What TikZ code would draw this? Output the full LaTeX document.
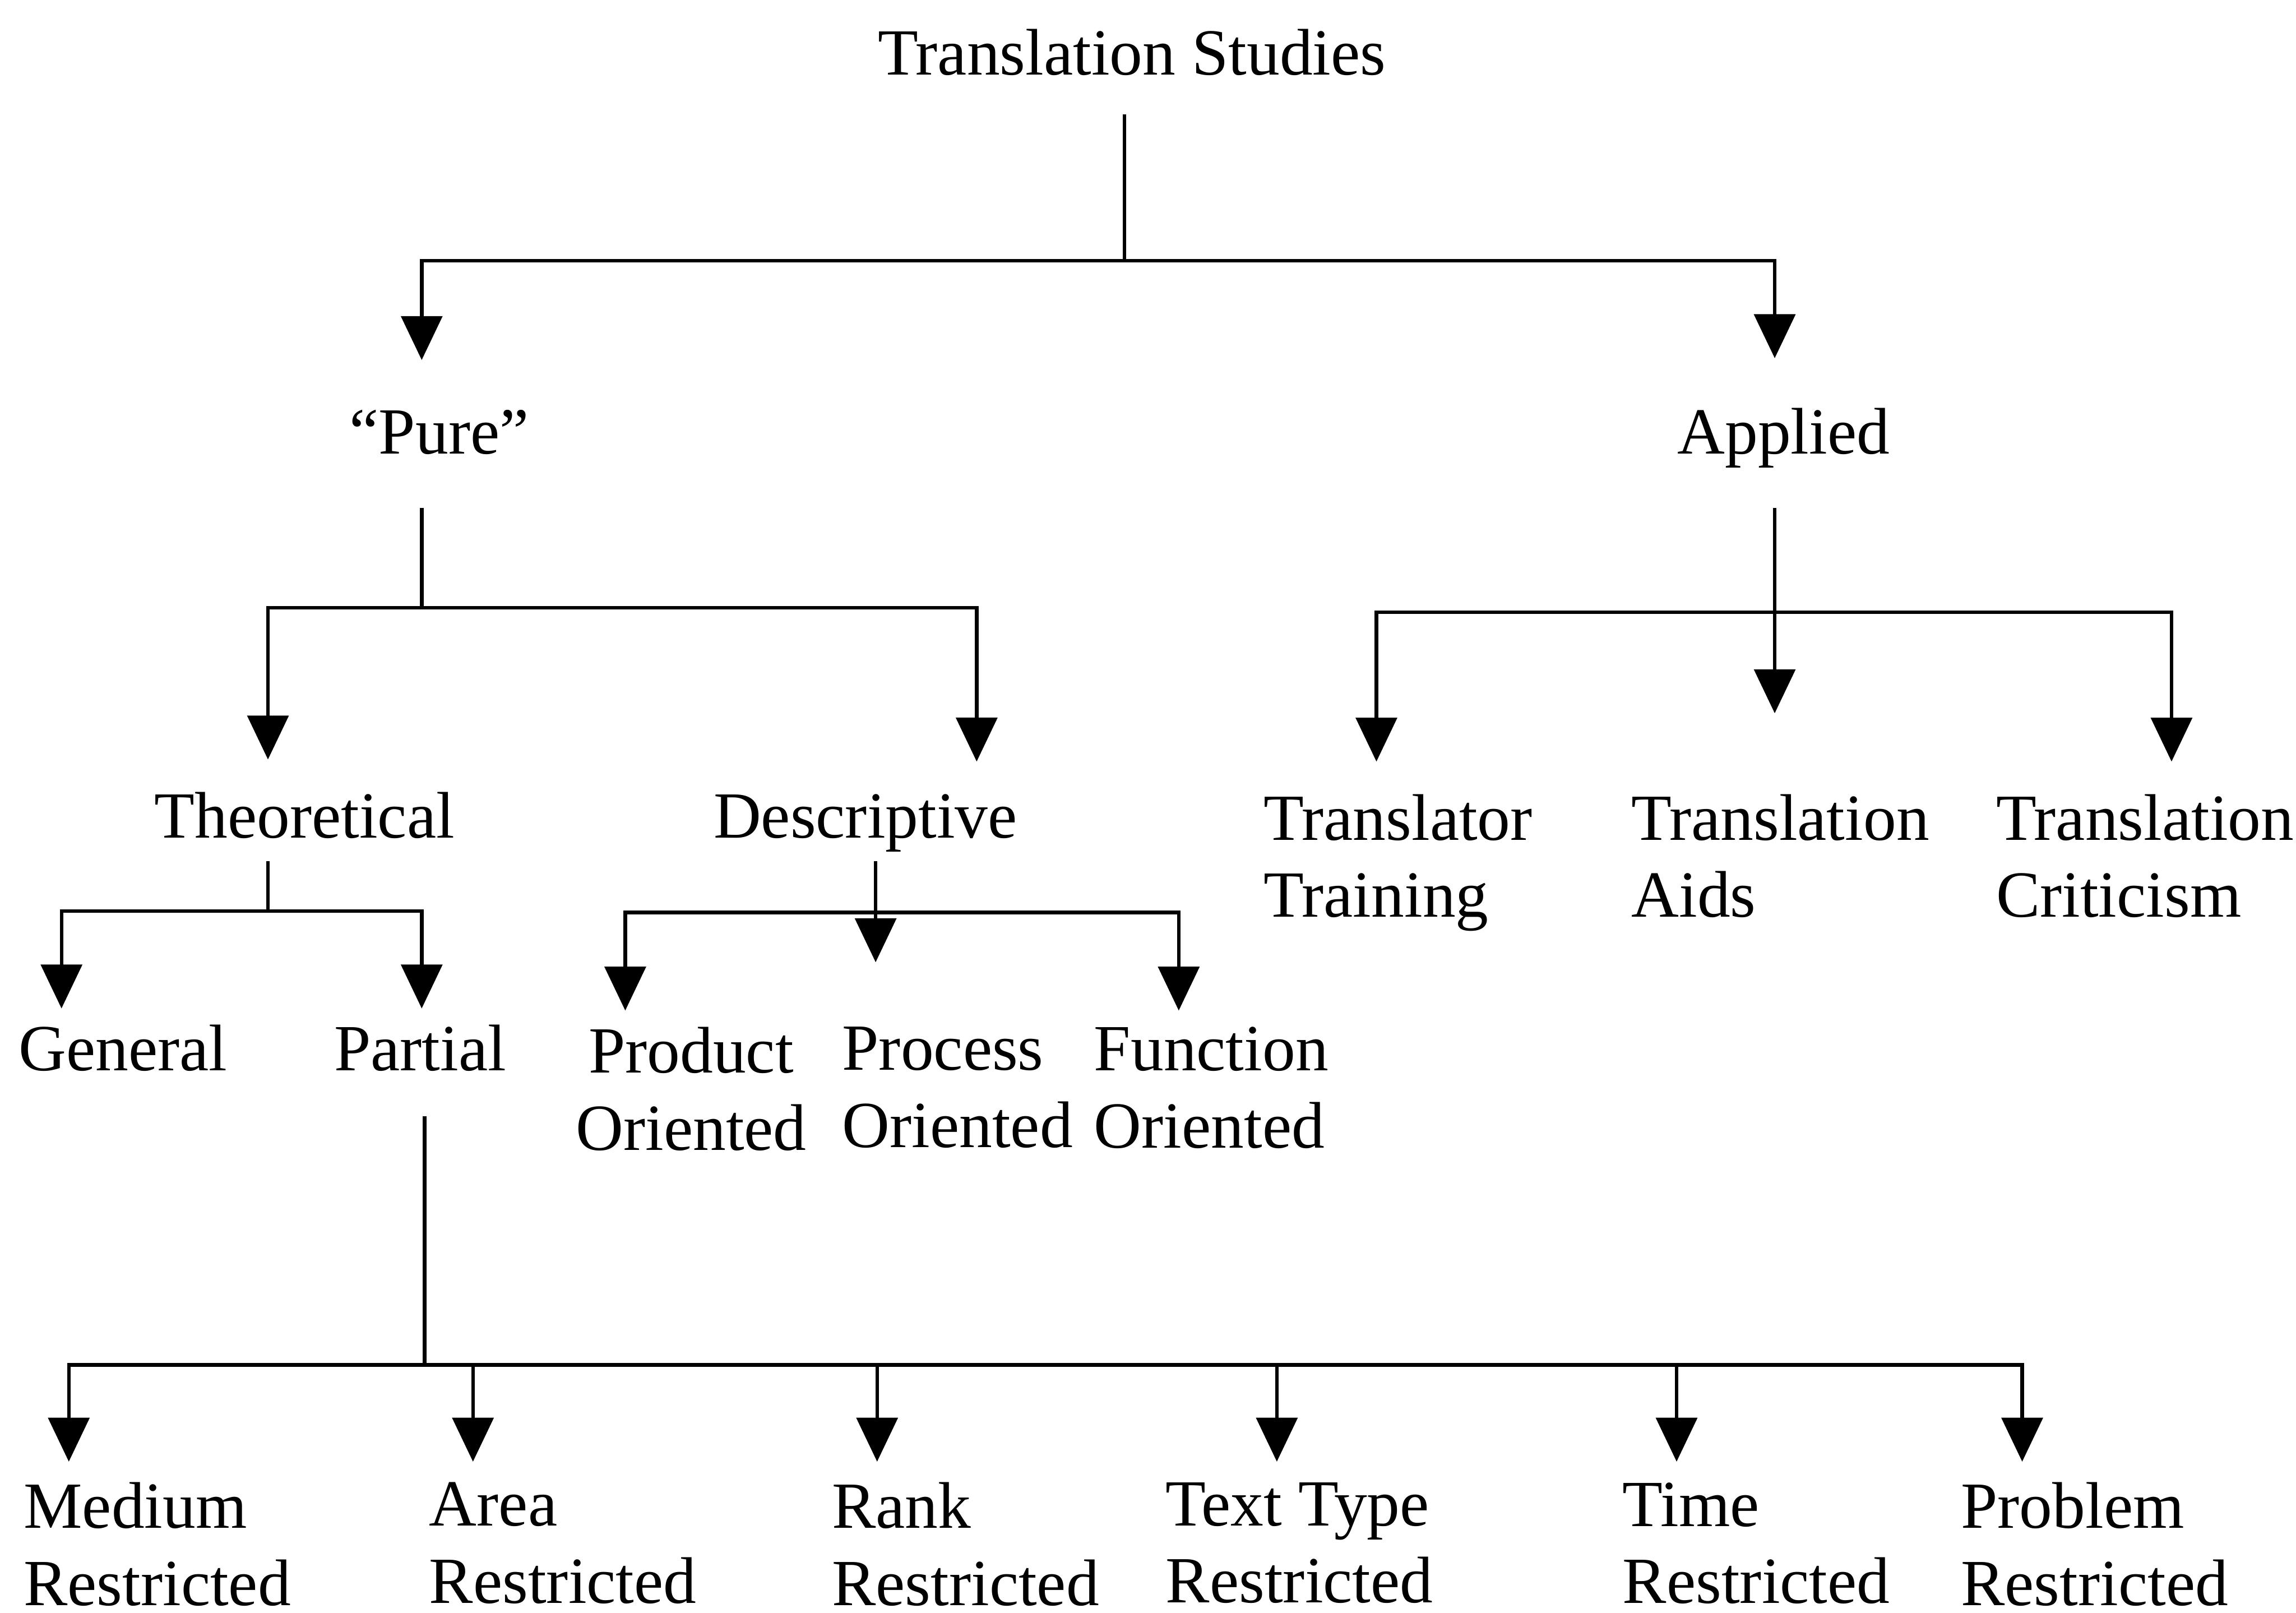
\documentclass[tikz,border=0pt]{standalone}
\usepackage{fontspec}
\setmainfont{Liberation Serif}
\usetikzlibrary{arrows.meta}

\begin{document}
\begin{tikzpicture}[x=0.1mm,y=-0.1mm,line width=.7pt,font=\fontsize{12.8}{15}\selectfont,
    lbl/.style={inner sep=0pt,anchor=base,text depth=0pt},
    lbl2/.style={inner sep=0pt,anchor=north west,align=left},
    lbl3/.style={inner sep=0pt,anchor=north,align=center},
    tip/.style={-{Triangle[length=3mm,width=2.8mm]}}]
      \useasboundingbox (0,0) rectangle (1568,1101);
      \node[lbl] (ts) at (773,51) {Translation Studies};
      \node[lbl] (pure) at (300,310) {“Pure”};
      \node[lbl] (applied) at (1218,310) {Applied};
      \node[lbl] (theo) at (208,572) {Theoretical};
      \node[lbl] (desc) at (591,572) {Descriptive};
      \node[lbl2] (trainer) at (862,541) {Translator\\Training};
      \node[lbl2] (aids) at (1113,541) {Translation\\Aids};
      \node[lbl2] (critic) at (1362,541) {Translation\\Criticism};
      \node[lbl] (general) at (84,731) {General};
      \node[lbl] (partial) at (287,731) {Partial};
      \node[lbl3] (product) at (472,700) {Product\\Oriented};
      \node[lbl2] (process) at (574,700) {Process\\Oriented};
      \node[lbl2] (function) at (746,700) {Function\\Oriented};
      \foreach \n/\x/\t in {medium/15/Medium,area/292/Area,rank/567/Rank,ttype/795/Text Type,time/1107/Time,problem/1338/Problem}
        \node[lbl2] (\n) at (\x,1011) {\t\\Restricted};
      \coordinate (j0) at (768,178);
      \coordinate (j1) at (288,415);
      \coordinate (j2) at (1212,418);
      \coordinate (j3) at (183,622);
      \coordinate (j4) at (598,623);
      \coordinate (j5) at (290,932);
      \draw[shorten <=2.7mm] (j0 |- ts.base) -- (j0);
      \draw[tip,shorten >=3.3mm] (j0) -| (288,0 |- pure.north);
      \draw[tip,shorten >=3.3mm] (j0) -| (1212,0 |- applied.north);
      \draw[shorten <=3.7mm] (j1 |- pure.base) -- (j1);
      \draw[tip,shorten >=2.1mm] (j1) -| (183,0 |- theo.north);
      \draw[tip,shorten >=2.1mm] (j1) -| (667,0 |- desc.north);
      \draw[tip,shorten <=3.7mm,shorten >=5.4mm] (j2 |- applied.base) -- (j2 |- aids.north);
      \draw[tip,shorten >=2.1mm] (j2) -| (940,0 |- trainer.north);
      \draw[tip,shorten >=2.1mm] (j2) -| (1483,0 |- critic.north);
      \draw[shorten <=1.6mm] (j3 |- theo.base) -- (j3);
      \draw[tip,shorten >=1mm] (j3) -| (42,0 |- general.north);
      \draw[tip,shorten >=1mm] (j3) -| (288,0 |- partial.north);
      \draw[tip,shorten <=1.6mm,shorten >=4.3mm] (j4 |- desc.base) -- (j4 |- process.north);
      \draw[tip,shorten >=1mm] (j4) -| (427,0 |- product.north);
      \draw[tip,shorten >=1mm] (j4) -| (805,0 |- function.north);
      \draw[shorten <=3.1mm] (j5 |- partial.base) -- (j5);
      \foreach \n/\x in {medium/47,area/323,rank/599,ttype/872,time/1145,problem/1381}
        \draw[tip,shorten >=1.3mm] (j5) -| (\x,0 |- \n.north);
    \end{tikzpicture}
\end{document}
